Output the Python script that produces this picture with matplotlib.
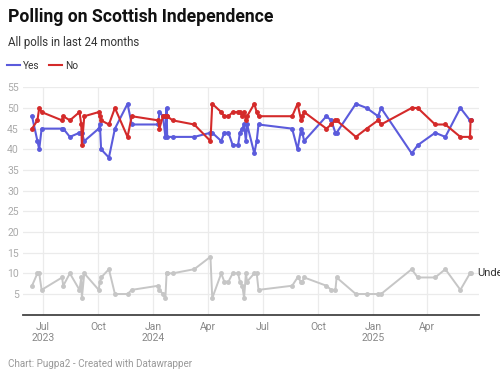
import matplotlib
matplotlib.use("Agg")
import matplotlib.pyplot as plt
import pandas as pd

plt.rcParams["font.family"] = ["Roboto", "DejaVu Sans"]

poll_dates = [
    "2023-06-13", "2023-06-22", "2023-06-25", "2023-06-29", "2023-08-02",
    "2023-08-04", "2023-08-15", "2023-08-31", "2023-09-03", "2023-09-04",
    "2023-09-08", "2023-10-02", "2023-10-04", "2023-10-06", "2023-10-19",
    "2023-10-29", "2023-11-19", "2023-11-26", "2024-01-09", "2024-01-11",
    "2024-01-17", "2024-01-21", "2024-01-23", "2024-01-24", "2024-02-02",
    "2024-03-09", "2024-04-05", "2024-04-08", "2024-04-23", "2024-04-28",
    "2024-05-05", "2024-05-12", "2024-05-21", "2024-05-24", "2024-05-28",
    "2024-05-31", "2024-06-03", "2024-06-05", "2024-06-17", "2024-06-21",
    "2024-06-24", "2024-08-19", "2024-08-28", "2024-09-03", "2024-09-05",
    "2024-09-08", "2024-10-15", "2024-10-23", "2024-10-30", "2024-11-01",
    "2024-12-03", "2024-12-21", "2025-01-09", "2025-01-14", "2025-03-06",
    "2025-03-16", "2025-04-14", "2025-05-01", "2025-05-26", "2025-06-11",
    "2025-06-12",
]
yes = [48, 42, 40, 45, 45, 45, 43, 44, 44, 44,
       42, 45, 46, 40, 38, 45, 51, 46, 46, 49,
       48, 43, 50, 43, 43, 43, 44, 44, 42, 44,
       44, 41, 41, 44, 45, 46, 42, 46, 39, 42,
       46, 45, 40, 45, 44, 42, 48, 47, 44, 44,
       51, 50, 48, 50, 39, 41, 44, 43, 50, 47,
       47]
no = [45, 47, 50, 49, 47, 48, 47, 49, 46, 41,
      48, 49, 48, 47, 46, 50, 43, 48, 47, 45,
      48, 48, 48, 48, 47, 46, 42, 51, 49, 48,
      48, 49, 49, 49, 48, 49, 47, 48, 51, 49,
      48, 48, 51, 47, 48, 49, 45, 46, 47, 47,
      43, 45, 47, 46, 50, 50, 46, 46, 43, 43,
      47]
undecided = [7, 10, 10, 6, 9, 7, 10, 6, 9, 4,
             10, 6, 8, 9, 11, 5, 5, 6, 7, 6,
             5, 4, 10, 10, 10, 11, 14, 4, 10, 8,
             8, 10, 10, 8, 7, 4, 10, 8, 10, 10,
             6, 7, 9, 8, 8, 9, 7, 6, 6, 9,
             5, 5, 5, 5, 11, 9, 9, 11, 6, 10,
             10]

tick_dates = ["2023-07-01", "2023-10-01", "2024-01-01", "2024-04-01",
              "2024-07-01", "2024-10-01", "2025-01-01", "2025-04-01"]
tick_labels = ["Jul\n2023", "Oct", "Jan\n2024", "Apr", "Jul", "Oct", "Jan\n2025", "Apr"]

dates = pd.to_datetime(poll_dates)

fig = plt.figure(figsize=(5, 3.79), dpi=100)
ax = fig.add_axes([0.046, 0.1697, 0.912, 0.60])

blue = "#5b5bdc"
red = "#d42a2a"
grey = "#c6c6c6"

ax.plot(dates, undecided, color=grey, lw=1.4, marker="o", ms=2.5, zorder=3)
ax.plot(dates, yes, color=blue, lw=1.5, marker="o", ms=2.5, zorder=4)
ax.plot(dates, no, color=red, lw=1.5, marker="o", ms=2.5, zorder=5)

# label at line end, partly cut by the right edge as in the original
ax.annotate("Undecided", (dates[-1], undecided[-1]), xytext=(5, 0),
            textcoords="offset points", va="center", ha="left",
            fontsize=8, color="#333333", annotation_clip=False)

ax.set_xlim(pd.Timestamp("2023-05-29"), pd.Timestamp("2025-06-26"))
ax.set_ylim(0, 55)
ax.set_yticks(range(5, 56, 5))
ax.set_xticks(pd.to_datetime(tick_dates))
ax.set_xticklabels(tick_labels)

ax.grid(True, color="#ebebeb", lw=0.9)
ax.set_axisbelow(True)
for s in ["top", "right", "left"]:
    ax.spines[s].set_visible(False)
ax.spines["bottom"].set_color("#444444")
ax.spines["bottom"].set_linewidth(1.3)
ax.tick_params(axis="y", length=0, pad=3, labelsize=7.5, labelcolor="#aaaaaa")
ax.tick_params(axis="x", length=0, pad=5, labelsize=7.5, labelcolor="#888888")

fig.text(0.016, 1 - 8 / 379, "Polling on Scottish Independence", fontsize=12.7,
         fontweight="bold", va="top", ha="left", color="#111111")
fig.text(0.016, 1 - 36 / 379, "All polls in last 24 months", fontsize=8.3,
         va="top", ha="left", color="#333333")
fig.text(0.016, 1 - 364 / 379, "Chart: Pugpa2 - Created with Datawrapper", fontsize=7.1,
         va="center", ha="left", color="#999999")

handles = [plt.Line2D([], [], color=blue, lw=1.5), plt.Line2D([], [], color=red, lw=1.5)]
fig.legend(handles, ["Yes", "No"], loc="center left", bbox_to_anchor=(0.0, 1 - 66 / 379),
           ncol=2, frameon=False, fontsize=7.3, handlelength=1.3, handletextpad=0.3,
           columnspacing=0.9, labelcolor="#333333", borderaxespad=0.3)

fig.savefig("out.png", dpi=100)
